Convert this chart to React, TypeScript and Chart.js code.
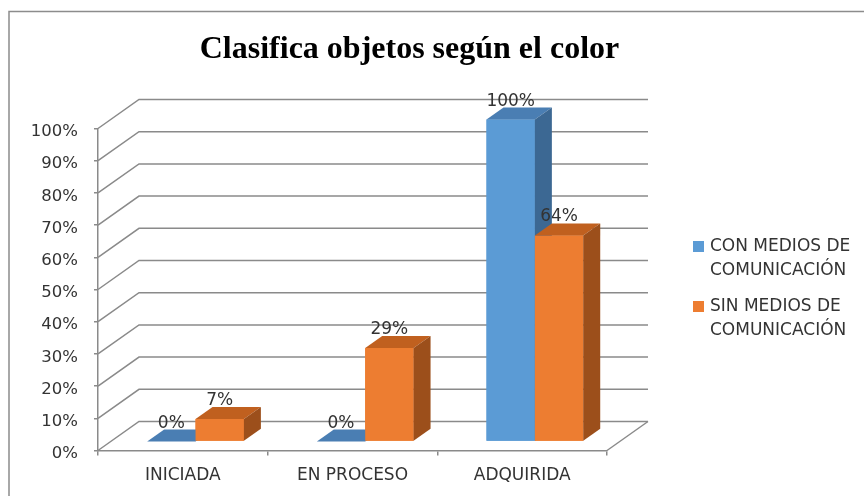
import React, { useEffect, useRef } from "react";
import { Chart, registerables } from "chart.js";

Chart.register(...registerables);

const TITLE = "Clasifica objetos según el color";
const CATEGORIES = ["INICIADA", "EN PROCESO", "ADQUIRIDA"];
const SERIES_NAMES = ["CON MEDIOS DE COMUNICACIÓN", "SIN MEDIOS DE COMUNICACIÓN"];
const LEGEND_LINES = [
  ["CON MEDIOS DE", "COMUNICACIÓN"],
  ["SIN MEDIOS DE", "COMUNICACIÓN"],
];
const CON_MEDIOS = [0, 0, 100];
const SIN_MEDIOS = [7, 29, 64];
const Y_TICKS = [0, 10, 20, 30, 40, 50, 60, 70, 80, 90, 100];

const FONT = "'DejaVu Sans', sans-serif";
const GRID = "#8a8a8a";
const TEXT = "#333333";

const WALL_DX = 41;
const WALL_DY = -29;
const BAR_SHIFT_X = 12.7;
const BAR_SHIFT_Y = -9;
const DEPTH_X = 17;
const DEPTH_Y = -12;

const FACES = [
  { front: "#5B9BD5", top: "#4A7EB3", side: "#3C6893" },
  { front: "#ED7D31", top: "#C0601F", side: "#9C4F1B" },
];

const excel3d = {
  id: "excel3d",
  afterLayout(chart: any) {
    if (chart.titleBlock) {
      chart.titleBlock.left = 9;
      chart.titleBlock.right = 810;
    }
  },
  beforeDraw(chart: any) {
    const ctx = chart.ctx;
    ctx.save();
    ctx.fillStyle = "#ffffff";
    ctx.fillRect(0, 0, chart.width, chart.height);
    ctx.strokeStyle = "#8c8c8c";
    ctx.lineWidth = 1.5;
    ctx.beginPath();
    ctx.moveTo(9, chart.height);
    ctx.lineTo(9, 11.5);
    ctx.lineTo(chart.width, 11.5);
    ctx.stroke();

    const { left, right, bottom } = chart.chartArea;
    const ys = chart.scales.y;
    ctx.strokeStyle = GRID;
    ctx.lineWidth = 1.5;
    for (const v of Y_TICKS) {
      const y = ys.getPixelForValue(v);
      ctx.beginPath();
      ctx.moveTo(left, y);
      ctx.lineTo(left + WALL_DX, y + WALL_DY);
      ctx.lineTo(right + WALL_DX, y + WALL_DY);
      ctx.stroke();
    }
    ctx.beginPath();
    ctx.moveTo(right, bottom);
    ctx.lineTo(right + WALL_DX, bottom + WALL_DY);
    ctx.stroke();
    ctx.restore();
  },
  beforeDatasetsDraw(chart: any) {
    chart.ctx.save();
    chart.ctx.translate(BAR_SHIFT_X, BAR_SHIFT_Y);
  },
  afterDatasetsDraw(chart: any) {
    const ctx = chart.ctx;
    const labels: any[] = [];
    chart.data.datasets.forEach((ds: any, di: number) => {
      const meta = chart.getDatasetMeta(di);
      const c = FACES[di];
      meta.data.forEach((el: any, i: number) => {
        const { x, y, base, width } = el.getProps(["x", "y", "base", "width"], true);
        const l = x - width / 2;
        const r = x + width / 2;
        ctx.fillStyle = c.front;
        ctx.fillRect(l, y, width, base - y);
        ctx.fillStyle = c.top;
        ctx.beginPath();
        ctx.moveTo(l, y);
        ctx.lineTo(r, y);
        ctx.lineTo(r + DEPTH_X, y + DEPTH_Y);
        ctx.lineTo(l + DEPTH_X, y + DEPTH_Y);
        ctx.closePath();
        ctx.fill();
        if (base - y > 0.5) {
          ctx.fillStyle = c.side;
          ctx.beginPath();
          ctx.moveTo(r, y);
          ctx.lineTo(r + DEPTH_X, y + DEPTH_Y);
          ctx.lineTo(r + DEPTH_X, base + DEPTH_Y);
          ctx.lineTo(r, base);
          ctx.closePath();
          ctx.fill();
        }
        labels.push({ x, y: y + DEPTH_Y - 2, text: ds.data[i] + "%" });
      });
    });
    ctx.fillStyle = TEXT;
    ctx.font = "17px " + FONT;
    ctx.textAlign = "center";
    ctx.textBaseline = "alphabetic";
    for (const lb of labels) ctx.fillText(lb.text, lb.x, lb.y);
    ctx.restore();
  },
  afterDraw(chart: any) {
    const ctx = chart.ctx;
    ctx.save();
    ctx.font = "17px " + FONT;
    ctx.textAlign = "left";
    ctx.textBaseline = "middle";
    LEGEND_LINES.forEach((lines, i) => {
      const cy = 246.5 + i * 60;
      ctx.fillStyle = FACES[i].front;
      ctx.fillRect(693, cy - 5.5, 11, 11);
      ctx.fillStyle = TEXT;
      lines.forEach((ln, j) => ctx.fillText(ln, 710, cy + j * 24));
    });
    ctx.restore();
  },
};

export default function App() {
  const ref = useRef<HTMLCanvasElement | null>(null);
  useEffect(() => {
    document.body.style.margin = "0";
    const canvas = ref.current;
    if (!canvas) return;
    const chart = new Chart(canvas, {
      type: "bar",
      data: {
        labels: CATEGORIES,
        datasets: [
          {
            label: SERIES_NAMES[0],
            data: CON_MEDIOS,
            backgroundColor: FACES[0].front,
            clip: false as any,
          },
          {
            label: SERIES_NAMES[1],
            data: SIN_MEDIOS,
            backgroundColor: FACES[1].front,
            clip: false as any,
          },
        ],
      },
      options: {
        responsive: false,
        animation: false,
        devicePixelRatio: 1,
        categoryPercentage: 0.57,
        barPercentage: 1,
        layout: { padding: { top: 0, left: 8, right: 257, bottom: 5.5 } },
        plugins: {
          legend: { display: false },
          tooltip: { enabled: false },
          title: {
            display: true,
            text: TITLE,
            color: "#000000",
            font: { family: "'Liberation Serif', serif", size: 32, weight: "bold" },
            padding: { top: 31, bottom: 59.1 },
          },
        },
        scales: {
          x: {
            afterFit: (s: any) => {
              s.height = 40;
            },
            grid: {
              drawOnChartArea: false,
              drawTicks: true,
              tickLength: 5,
              color: GRID,
              lineWidth: 1.5,
            },
            border: { display: true, color: GRID, width: 1.5 },
            ticks: { color: TEXT, font: { family: FONT, size: 17 }, padding: 10 },
          },
          y: {
            min: 0,
            max: 100,
            afterFit: (s: any) => {
              s.width = 90;
            },
            grid: {
              drawOnChartArea: false,
              drawTicks: true,
              tickLength: 4,
              color: GRID,
              lineWidth: 1.5,
            },
            border: { display: true, color: GRID, width: 1.5 },
            ticks: {
              stepSize: 10,
              color: TEXT,
              font: { family: FONT, size: 16.5 },
              padding: 16,
              labelOffset: 3.5,
              callback: (v: any) => v + "%",
            },
          },
        },
      },
      plugins: [excel3d],
    });
    return () => chart.destroy();
  }, []);
  return (
    <div style={{ width: 864, height: 496 }}>
      <canvas ref={ref} width={864} height={496} style={{ display: "block" }} />
    </div>
  );
}
